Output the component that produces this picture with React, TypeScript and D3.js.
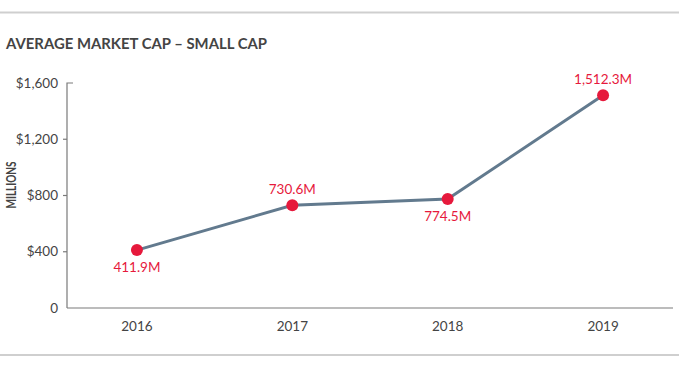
import React, { useEffect, useRef } from "react";
import * as d3 from "d3";

const years = ["2016", "2017", "2018", "2019"];
const values = [411.9, 730.6, 774.5, 1512.3];
const valueLabels = ["411.9M", "730.6M", "774.5M", "1,512.3M"];
const labelAbove = [false, true, false, true];
const yTicks = [0, 400, 800, 1200, 1600];
const yTickLabels = ["0", "$400", "$800", "$1,200", "$1,600"];

const W = 679;
const H = 368;

function App() {
  const ref = useRef<SVGSVGElement>(null);

  useEffect(() => {
    const svg = d3.select(ref.current);
    svg.selectAll("*").remove();

    const left = 67;
    const right = 673;
    const top = 83;
    const bottom = 308;

    const x = d3.scalePoint<string>().domain(years).range([left, right]).padding(0.45);
    const y = d3.scaleLinear().domain([0, 1600]).range([bottom, top]);

    // rules top and bottom
    svg.append("line").attr("x1", 0).attr("x2", W).attr("y1", 12.5).attr("y2", 12.5)
      .attr("stroke", "#cfcfcf").attr("stroke-width", 2);
    svg.append("line").attr("x1", 0).attr("x2", W).attr("y1", 355).attr("y2", 355)
      .attr("stroke", "#cfcfcf").attr("stroke-width", 2);

    svg.append("text")
      .attr("x", 6).attr("y", 49)
      .attr("font-family", "Lato").attr("font-weight", 700).attr("font-size", 15)
      .attr("textLength", 261).attr("lengthAdjust", "spacingAndGlyphs")
      .attr("fill", "#444")
      .text("AVERAGE MARKET CAP – SMALL CAP");

    svg.append("text")
      .attr("transform", `translate(15.5,185) rotate(-90)`)
      .attr("text-anchor", "middle")
      .attr("font-family", "Lato").attr("font-weight", 700).attr("font-size", 13.5)
      .attr("textLength", 47).attr("lengthAdjust", "spacingAndGlyphs")
      .attr("fill", "#444")
      .text("MILLIONS");

    // y axis
    const axisColor = "#7a7a7a";
    svg.append("path")
      .attr("d", `M${left + 6},${y(1600)}H${left}V${y(0)}`)
      .attr("fill", "none").attr("stroke", axisColor).attr("stroke-width", 1.2);
    svg.append("g").selectAll("line")
      .data(yTicks.filter((t) => t > 0 && t < 1600))
      .join("line")
      .attr("x1", left - 4).attr("x2", left)
      .attr("y1", (d) => y(d)).attr("y2", (d) => y(d))
      .attr("stroke", axisColor).attr("stroke-width", 1.2);
    svg.append("g").selectAll("text")
      .data(yTicks)
      .join("text")
      .attr("x", left - 9)
      .attr("y", (d) => y(d))
      .attr("dy", "0.35em")
      .attr("text-anchor", "end")
      .attr("font-family", "Lato").attr("font-size", 13.5)
      .attr("fill", "#444")
      .text((d, i) => yTickLabels[i]);

    // x axis
    svg.append("line").attr("x1", left).attr("x2", right).attr("y1", bottom).attr("y2", bottom)
      .attr("stroke", axisColor).attr("stroke-width", 1.2);
    svg.append("g").selectAll("text")
      .data(years)
      .join("text")
      .attr("x", (d) => x(d)!)
      .attr("y", bottom + 23)
      .attr("text-anchor", "middle")
      .attr("font-family", "Lato").attr("font-size", 13.5)
      .attr("fill", "#444")
      .text((d) => d);

    const pts = years.map((yr, i) => ({ yr, v: values[i], label: valueLabels[i], above: labelAbove[i] }));

    const line = d3.line<{ yr: string; v: number }>()
      .x((d) => x(d.yr)!)
      .y((d) => y(d.v));

    svg.append("path")
      .datum(pts)
      .attr("d", line)
      .attr("fill", "none")
      .attr("stroke", "#627a8e")
      .attr("stroke-width", 3);

    svg.append("g").selectAll("circle")
      .data(pts)
      .join("circle")
      .attr("cx", (d) => x(d.yr)!)
      .attr("cy", (d) => y(d.v))
      .attr("r", 6)
      .attr("fill", "#e6193c");

    svg.append("g").selectAll("text")
      .data(pts)
      .join("text")
      .attr("x", (d) => x(d.yr)!)
      .attr("y", (d) => y(d.v) + (d.above ? -11 : 22))
      .attr("text-anchor", "middle")
      .attr("font-family", "Lato").attr("font-size", 13.5)
      .attr("fill", "#e6193c")
      .text((d) => d.label);
  }, []);

  return (
    <div style={{ position: "absolute", left: 0, top: 0 }}>
      <svg ref={ref} width={W} height={H} style={{ display: "block" }} />
    </div>
  );
}

export default App;
